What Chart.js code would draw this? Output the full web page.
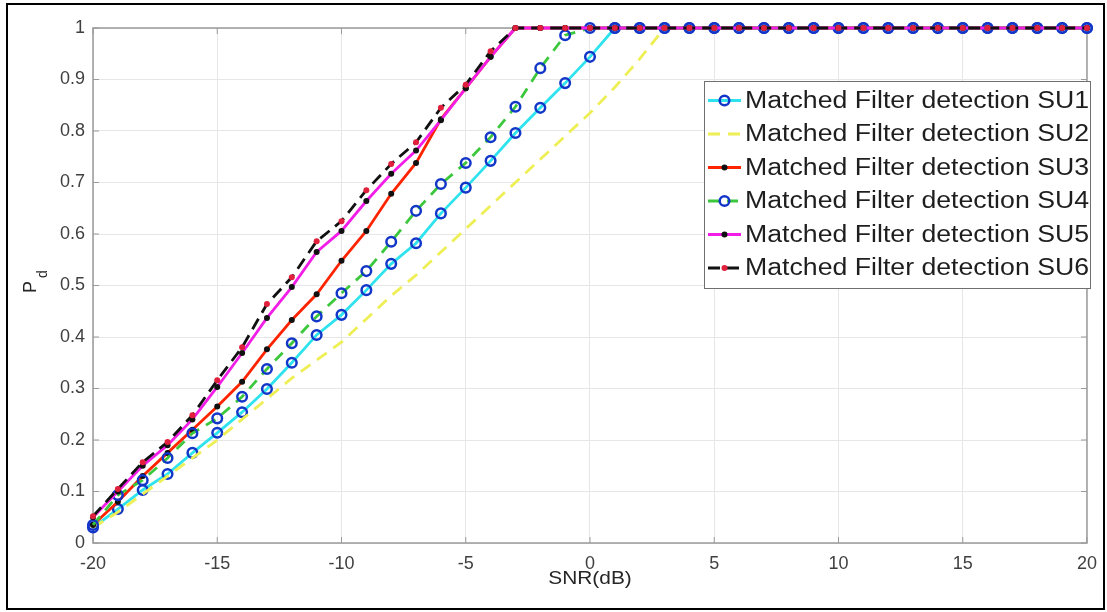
<!DOCTYPE html>
<html>
<head>
<meta charset="utf-8">
<script src="https://cdn.jsdelivr.net/npm/chart.js@4.4.1/dist/chart.umd.min.js"></script>
<style>
  html, body { margin: 0; padding: 0; background: #fff; }
  #chart { display: block; }
</style>
</head>
<body>
<canvas id="chart" width="1107" height="612"></canvas>
<script>
// SNR values (dB) and detection probability for each secondary user
const snr = [-20, -19, -18, -17, -16, -15, -14, -13, -12, -11, -10, -9, -8, -7, -6, -5, -4, -3, -2, -1, 0,
             1, 2, 3, 4, 5, 6, 7, 8, 9, 10, 11, 12, 13, 14, 15, 16, 17, 18, 19, 20];

const su1 = [0.03, 0.066, 0.103, 0.134, 0.175, 0.214, 0.254, 0.299, 0.35, 0.404, 0.443, 0.491, 0.542, 0.582, 0.64, 0.69, 0.742, 0.796, 0.845, 0.893, 0.944,
             1, 1, 1, 1, 1, 1, 1, 1, 1, 1, 1, 1, 1, 1, 1, 1, 1, 1, 1, 1];
const su2 = [0.03, 0.06, 0.095, 0.13, 0.165, 0.2, 0.24, 0.28, 0.32, 0.355, 0.39, 0.435, 0.48, 0.52, 0.565, 0.61, 0.655, 0.70, 0.745, 0.79, 0.835,
             0.885, 0.94, 1, 1, 1, 1, 1, 1, 1, 1, 1, 1, 1, 1, 1, 1, 1, 1, 1, 1];
const su3 = [0.035, 0.08, 0.13, 0.175, 0.22, 0.265, 0.313, 0.376, 0.433, 0.483, 0.548, 0.606, 0.678, 0.738, 0.823, 0.883, 0.944, 1, 1, 1, 1,
             1, 1, 1, 1, 1, 1, 1, 1, 1, 1, 1, 1, 1, 1, 1, 1, 1, 1, 1, 1];
const su4 = [0.035, 0.093, 0.122, 0.165, 0.213, 0.242, 0.284, 0.338, 0.388, 0.44, 0.485, 0.528, 0.585, 0.645, 0.697, 0.738, 0.788, 0.847, 0.922, 0.986, 1,
             1, 1, 1, 1, 1, 1, 1, 1, 1, 1, 1, 1, 1, 1, 1, 1, 1, 1, 1, 1];
const su5 = [0.05, 0.1, 0.15, 0.19, 0.24, 0.303, 0.369, 0.437, 0.497, 0.565, 0.606, 0.664, 0.717, 0.762, 0.821, 0.883, 0.944, 1, 1, 1, 1,
             1, 1, 1, 1, 1, 1, 1, 1, 1, 1, 1, 1, 1, 1, 1, 1, 1, 1, 1, 1];
const su6 = [0.052, 0.105, 0.157, 0.196, 0.248, 0.316, 0.38, 0.464, 0.516, 0.586, 0.625, 0.685, 0.736, 0.778, 0.845, 0.89, 0.955, 1, 1, 1, 1,
             1, 1, 1, 1, 1, 1, 1, 1, 1, 1, 1, 1, 1, 1, 1, 1, 1, 1, 1, 1];

const labels = ['Matched Filter detection SU1', 'Matched Filter detection SU2', 'Matched Filter detection SU3',
                'Matched Filter detection SU4', 'Matched Filter detection SU5', 'Matched Filter detection SU6'];

const FONT = '"Liberation Sans", Arial, sans-serif';
const STRETCH = 1.16; // the reference text is a bit wide

function pts(values) {
  return snr.map((x, i) => ({ x: x, y: values[i] }));
}

// axes box, inner ticks, axis titles, legend and outer frame
const framePlugin = {
  id: 'frame',
  beforeDatasetsDraw(chart) {
    const { ctx, chartArea: a, scales } = chart;
    ctx.save();
    ctx.strokeStyle = '#9a9a9a';
    ctx.lineWidth = 1.5;
    ctx.strokeRect(a.left, a.top, a.right - a.left, a.bottom - a.top);
    ctx.lineWidth = 1;
    ctx.beginPath();
    scales.x.ticks.forEach(t => {
      const px = scales.x.getPixelForValue(t.value);
      ctx.moveTo(px, a.bottom); ctx.lineTo(px, a.bottom - 6);
      ctx.moveTo(px, a.top); ctx.lineTo(px, a.top + 6);
    });
    scales.y.ticks.forEach(t => {
      const py = scales.y.getPixelForValue(t.value);
      ctx.moveTo(a.left, py); ctx.lineTo(a.left + 6, py);
      ctx.moveTo(a.right, py); ctx.lineTo(a.right - 6, py);
    });
    ctx.stroke();
    ctx.restore();
  },
  afterDraw(chart) {
    const { ctx, chartArea: a } = chart;
    ctx.save();

    // x title
    ctx.fillStyle = '#262626';
    ctx.font = '18px ' + FONT;
    ctx.textAlign = 'center';
    ctx.textBaseline = 'middle';
    ctx.save();
    ctx.translate((a.left + a.right) / 2, 579);
    ctx.scale(STRETCH, 1);
    ctx.fillText('SNR(dB)', 0, 0);
    ctx.restore();

    // y title P_d
    ctx.save();
    ctx.translate(31, 287);
    ctx.rotate(-Math.PI / 2);
    ctx.font = '18px ' + FONT;
    ctx.fillText('P', 0, 0);
    ctx.font = '14px ' + FONT;
    ctx.fillText('d', 13, 12);
    ctx.restore();

    // legend
    const lg = { left: 704, top: 81, right: 1090, bottom: 288 };
    ctx.fillStyle = '#ffffff';
    ctx.fillRect(lg.left, lg.top, lg.right - lg.left, lg.bottom - lg.top);
    ctx.strokeStyle = '#707070';
    ctx.lineWidth = 1;
    ctx.strokeRect(lg.left + 0.5, lg.top + 0.5, lg.right - lg.left, lg.bottom - lg.top);

    chart.data.datasets.forEach((ds, i) => {
      const y = 100.5 + i * 33.5;
      ctx.save();
      ctx.strokeStyle = ds.borderColor;
      ctx.lineWidth = ds.borderWidth;
      ctx.setLineDash(ds.borderDash || []);
      ctx.beginPath();
      ctx.moveTo(708, y);
      ctx.lineTo(741, y);
      ctx.stroke();
      ctx.setLineDash([]);
      if (ds.pointRadius > 0) {
        ctx.beginPath();
        ctx.arc(724.5, y, ds.pointRadius, 0, Math.PI * 2);
        ctx.fillStyle = ds.pointBackgroundColor;
        ctx.fill();
        ctx.lineWidth = ds.pointBorderWidth;
        ctx.strokeStyle = ds.pointBorderColor;
        if (ds.pointBorderWidth > 0) ctx.stroke();
      }
      ctx.restore();

      ctx.save();
      ctx.fillStyle = '#1e1e1e';
      ctx.font = '23px ' + FONT;
      ctx.textAlign = 'left';
      ctx.textBaseline = 'middle';
      ctx.translate(745, y + 1);
      ctx.scale(STRETCH, 1);
      ctx.fillText(ds.label, 0, 0);
      ctx.restore();
    });

    // outer frame
    ctx.strokeStyle = '#000000';
    ctx.lineWidth = 2;
    ctx.strokeRect(7, 4, 1097, 605);
    ctx.restore();
  }
};

const common = { tension: 0, clip: 10, pointHoverRadius: 0, borderWidth: 2.8 };

const ctx = document.getElementById('chart').getContext('2d');
const chart = new Chart(ctx, {
  type: 'line',
  data: {
    datasets: [
      { ...common, label: labels[0], data: pts(su1), borderColor: '#2fe3ee',
        pointRadius: 4.8, pointBorderWidth: 2.5, pointBorderColor: '#1236c8', pointBackgroundColor: 'rgba(0,0,0,0)', order: 6 },
      { ...common, label: labels[1], data: pts(su2), borderColor: '#eeee55', borderDash: [12, 8],
        pointRadius: 0, order: 5 },
      { ...common, label: labels[2], data: pts(su3), borderColor: '#ff2400',
        pointRadius: 3, pointBorderWidth: 0, pointBorderColor: '#111111', pointBackgroundColor: '#111111', order: 4 },
      { ...common, label: labels[3], data: pts(su4), borderColor: '#3cc83c', borderDash: [11, 8],
        pointRadius: 4.8, pointBorderWidth: 2.5, pointBorderColor: '#1236c8', pointBackgroundColor: 'rgba(0,0,0,0)', order: 3 },
      { ...common, label: labels[4], data: pts(su5), borderColor: '#f21ee8',
        pointRadius: 3, pointBorderWidth: 0, pointBorderColor: '#111111', pointBackgroundColor: '#111111', order: 2 },
      { ...common, label: labels[5], data: pts(su6), borderColor: '#111111', borderDash: [12, 7],
        pointRadius: 3, pointBorderWidth: 0, pointBorderColor: '#e0203c', pointBackgroundColor: '#e0203c', order: 1 }
    ]
  },
  options: {
    responsive: false,
    animation: false,
    events: [],
    layout: { padding: { left: 0, right: 13, top: 28, bottom: 0 } },
    plugins: { legend: { display: false }, tooltip: { enabled: false } },
    scales: {
      x: {
        type: 'linear', min: -20, max: 20,
        ticks: { stepSize: 5, color: '#404040', font: { family: FONT, size: 18 }, padding: 10, maxRotation: 0 },
        grid: { color: '#e6e6e6', drawTicks: false },
        border: { display: false },
        afterFit(s) { s.height = 69; }
      },
      y: {
        min: 0, max: 1,
        ticks: { stepSize: 0.1, color: '#404040', font: { family: FONT, size: 18 }, padding: 8,
                 callback: v => String(Math.round(v * 10) / 10) },
        grid: { color: '#e6e6e6', drawTicks: false },
        border: { display: false },
        afterFit(s) { s.height = s.height; s.width = 93; }
      }
    }
  },
  plugins: [framePlugin]
});
</script>
</body>
</html>
